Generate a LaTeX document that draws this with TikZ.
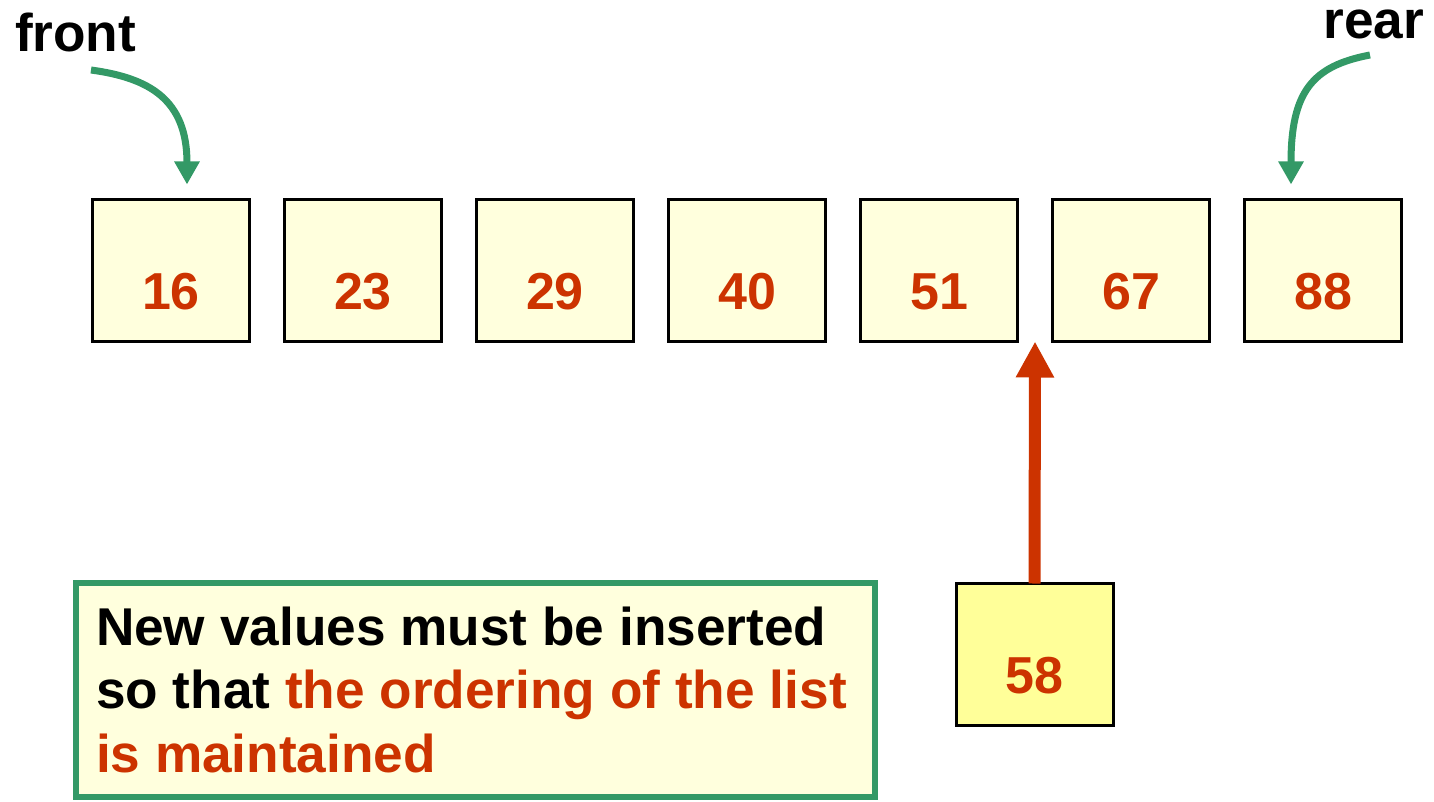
\documentclass[tikz,border=0pt]{standalone}
\usepackage{fontspec}
\setmainfont{Liberation Sans}
\usetikzlibrary{arrows.meta,calc}
\definecolor{qgreen}{HTML}{339966}
\definecolor{qred}{HTML}{CC3300}
\definecolor{cellfill}{HTML}{FFFFDD}
\definecolor{newfill}{HTML}{FFFF99}
\tikzset{
  big/.style={font=\fontsize{52pt}{63pt}\selectfont\bfseries, inner sep=0pt, outer sep=0pt},
  bigger/.style={font=\fontsize{53.2pt}{63pt}\selectfont\bfseries, inner sep=0pt, outer sep=0pt},
  cell/.style={big, draw=black, line width=3pt, fill=cellfill, text=qred,
    minimum width=157pt, minimum height=142pt, text height=77pt, text depth=0pt},
  pointer/.style={draw=qgreen, line width=7pt, -{Triangle[length=23pt,width=24pt]}},
  insert/.style={draw=qred, line width=12pt, -{Triangle[length=36pt,width=36pt]}},
  notebox/.style={draw=qgreen, line width=6pt, fill=cellfill, minimum width=799pt, minimum height=214pt, inner sep=0pt},
}
\begin{document}
\begin{tikzpicture}[x=1pt,y=-1pt]
\useasboundingbox (0,0) rectangle (1434,802);
% list cells
\foreach \v [count=\i from 0] in {16,23,29,40,51,67,88}{
  \node[cell] (n\v) at (171+192*\i,270.5) {\v};
}
% labels
\node[bigger, anchor=base west] (front) at (15,52) {front};
\node[bigger, anchor=base east, text height=28pt, text depth=0pt] (rear) at (1424,39) {rear};
\coordinate (fstart) at (91,70);
\coordinate (rstart) at (1370,55);
\draw[pointer] (fstart) .. controls (150,78) and (187,100) .. ([xshift=16pt,yshift=15pt]n16.north);
\draw[pointer] (rstart) .. controls (1312,66) and (1291,92) .. ([xshift=-32pt,yshift=15pt]n88.north);
% new value
\node[cell, fill=newfill] (n58) at (1034.5,654.5) {58};
\coordinate (gap) at ($(n51.south east)!0.5!(n67.south west)$);
\draw[insert] (n58.north) -- (gap);
% note
\node[notebox] (note) at (475.5,690) {};
\node[bigger, anchor=base west] (line1) at (96,645) {New values must be inserted};
\node[bigger, anchor=base west] (line2) at (96,708) {so that \textcolor{qred}{the ordering of the list}};
\node[bigger, anchor=base west, text=qred] (line3) at (96,772) {is maintained};
\end{tikzpicture}
\end{document}
